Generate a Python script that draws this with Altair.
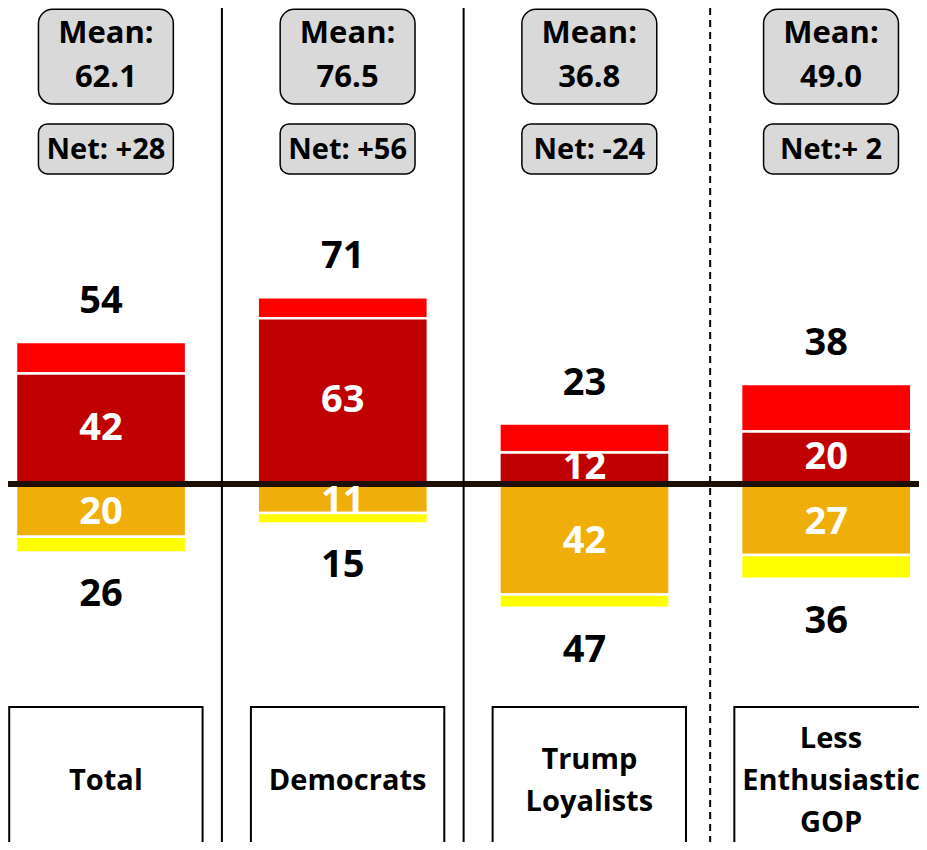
import altair as alt
import pandas as pd

# ---- data ----
categories = ["Total", "Democrats", "Trump Loyalists", "Less Enthusiastic GOP"]
box_labels = ["Total", "Democrats", "Trump\nLoyalists", "Less\nEnthusiastic\nGOP"]
strong_pos = [42, 63, 12, 20]      # dark red
some_pos = [12, 8, 11, 18]         # bright red
total_pos = [54, 71, 23, 38]
some_neg = [20, 11, 42, 27]        # orange
strong_neg = [6, 4, 5, 9]          # yellow
total_neg = [26, 15, 47, 36]
mean_vals = ["62.1", "76.5", "36.8", "49.0"]
net_labels = ["Net: +28", "Net: +56", "Net: -24", "Net:+ 2"]
separators = [0.5, 1.5, 2.52]
separator_style = ["solid", "solid", "dashed"]

seg_names = ["Somewhat positive", "Strongly positive", "Somewhat negative", "Strongly negative"]
seg_colors = ["#FF0000", "#C00000", "#F0AE0A", "#FFFF00"]

# ---- layout constants ----
W, H = 911, 834
PX_PER_UNIT = 2.63
X_DOM = [-0.385, 3.384]
Y_DOM = [-136.1, 181.0]
BAR_HALF = 0.352
BOX_SHIFT = 0.02
TOPBOX_HALF = 0.279
CATBOX_HALF = 0.40
MEAN_TOP, MEAN_BOT = 180.5, 144.5
MEAN_T1, MEAN_T2 = 171.0, 154.5
NET_TOP, NET_BOT = 136.9, 117.9
NET_T = 127.0
CAT_TOP, CAT_BOT = -84.8, -220.0
CAT_T = -113.0
LINE_H = 42
FONT = "Open Sans"

xs = alt.Scale(domain=X_DOM, nice=False, zero=False)
ys = alt.Scale(domain=Y_DOM, nice=False, zero=False)


def X(f):
    return alt.X(f, type="quantitative", scale=xs, axis=None)


def Y(f):
    return alt.Y(f, type="quantitative", scale=ys, axis=None)


# segments
rows = []
for i, c in enumerate(categories):
    segs = [
        (seg_names[0], strong_pos[i], strong_pos[i] + some_pos[i]),
        (seg_names[1], 0, strong_pos[i]),
        (seg_names[2], 0, -some_neg[i]),
        (seg_names[3], -some_neg[i], -(some_neg[i] + strong_neg[i])),
    ]
    for name, a, b in segs:
        rows.append({"cat": c, "seg": name, "x0": i - BAR_HALF, "x1": i + BAR_HALF, "y0": a, "y1": b})
seg_df = pd.DataFrame(rows)

info = pd.DataFrame({
    "cat": categories,
    "idx": list(range(len(categories))),
    "box": box_labels,
    "strong_pos": strong_pos,
    "some_neg": some_neg,
    "total_pos": total_pos,
    "total_neg": total_neg,
    "mean": mean_vals,
    "net": net_labels,
})
info["xc"] = info["idx"] + BOX_SHIFT
info["bx0"] = info["xc"] - TOPBOX_HALF
info["bx1"] = info["xc"] + TOPBOX_HALF
info["cx0"] = info["xc"] - CATBOX_HALF
info["cx1"] = info["xc"] + CATBOX_HALF
info["neg_total"] = -info["total_neg"]
info["strong_mid"] = info["strong_pos"] / 2
info["neg_mid"] = -info["some_neg"] / 2
info["mean_top"] = MEAN_TOP
info["mean_bot"] = MEAN_BOT
info["mean_t1"] = MEAN_T1
info["mean_t2"] = MEAN_T2
info["net_top"] = NET_TOP
info["net_bot"] = NET_BOT
info["net_t"] = NET_T
info["cat_top"] = CAT_TOP
info["cat_bot"] = CAT_BOT
# first line position so that the text block is centred on CAT_T
info["cat_t"] = [CAT_T + (b.count("\n")) / 2 * LINE_H / PX_PER_UNIT for b in box_labels]
info["mean_word"] = "Mean:"

bars = alt.Chart(seg_df).mark_rect(stroke="white", strokeWidth=2.5).encode(
    x=X("x0"), x2="x1", y=Y("y0"), y2="y1",
    color=alt.Color("seg:N", scale=alt.Scale(domain=seg_names, range=seg_colors), legend=None),
)

baseline = alt.Chart(pd.DataFrame({"y": [0]})).mark_rule(color="#1E0F06", strokeWidth=6).encode(y=Y("y"))

seps = alt.Chart(pd.DataFrame({"x": separators, "style": separator_style})).mark_rule(
    color="black", strokeWidth=2
).encode(
    x=X("x"),
    strokeDash=alt.StrokeDash("style:N", scale=alt.Scale(domain=["solid", "dashed"], range=[[1, 0], [7, 5]]), legend=None),
)

base = alt.Chart(info)

mean_box = base.mark_rect(cornerRadius=14, fill="#D9D9D9", stroke="black", strokeWidth=1.5).encode(
    x=X("bx0"), x2="bx1", y=Y("mean_top"), y2="mean_bot")
net_box = base.mark_rect(cornerRadius=9, fill="#D9D9D9", stroke="black", strokeWidth=1.5).encode(
    x=X("bx0"), x2="bx1", y=Y("net_top"), y2="net_bot")
cat_box = base.mark_rect(fill="white", stroke="black", strokeWidth=2).encode(
    x=X("cx0"), x2="cx1", y=Y("cat_top"), y2="cat_bot")

txt = dict(font=FONT, fontWeight="bold", align="center", baseline="middle")

mean_t1 = base.mark_text(fontSize=31, color="black", **txt).encode(x=X("xc"), y=Y("mean_t1"), text="mean_word:N")
mean_t2 = base.mark_text(fontSize=31, color="black", **txt).encode(x=X("xc"), y=Y("mean_t2"), text="mean:N")
net_t = base.mark_text(fontSize=29, color="black", **txt).encode(x=X("xc"), y=Y("net_t"), text="net:N")
cat_t = base.mark_text(fontSize=29, color="black", lineBreak="\n", lineHeight=LINE_H, **txt).encode(
    x=X("xc"), y=Y("cat_t"), text="box:N")

pos_lab = base.mark_text(fontSize=38, color="black", dy=-40, **txt).encode(x=X("idx"), y=Y("total_pos"), text="total_pos:Q")
neg_lab = base.mark_text(fontSize=38, color="black", dy=43, **txt).encode(x=X("idx"), y=Y("neg_total"), text="total_neg:Q")
in_pos = base.mark_text(fontSize=38, color="white", **txt).encode(x=X("idx"), y=Y("strong_mid"), text="strong_pos:Q")
in_neg = base.mark_text(fontSize=38, color="white", dy=3, **txt).encode(x=X("idx"), y=Y("neg_mid"), text="some_neg:Q")

chart = alt.layer(
    bars, in_pos, baseline, in_neg, seps, mean_box, net_box, cat_box,
    mean_t1, mean_t2, net_t, cat_t, pos_lab, neg_lab,
).properties(
    width=W, height=H, padding=0, autosize=alt.AutoSizeParams(type="none"), background="white"
).configure_view(stroke=None)

chart.save("out.html", embed_options={"renderer": "svg", "actions": False})
